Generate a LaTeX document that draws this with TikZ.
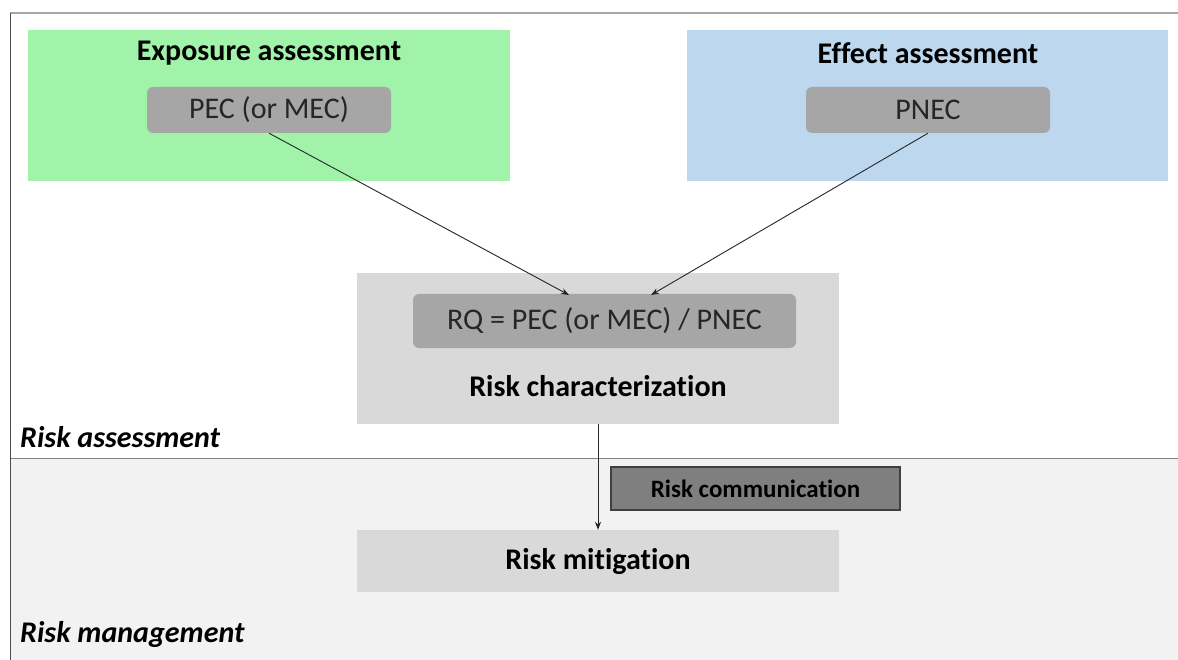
\documentclass[tikz,border=0pt]{standalone}
\usepackage{fontspec}
\setmainfont[Ligatures=NoCommon]{Carlito}
\usetikzlibrary{arrows.meta}
\definecolor{exposuregreen}{HTML}{A1F3A9}
\definecolor{effectblue}{HTML}{BDD7EE}
\definecolor{midgray}{HTML}{A6A6A6}
\definecolor{lightgray}{HTML}{D9D9D9}
\definecolor{palegray}{HTML}{F2F2F2}
\definecolor{commgray}{HTML}{7F7F7F}
\tikzset{
  panel/.style={draw=none, inner sep=0pt},
  valuebox/.style={fill=midgray, rounded corners=6pt, inner sep=0pt,
    font=\fontsize{30}{35}\selectfont, text=black!85},
  heading/.style={font=\fontsize{30}{35}\selectfont\bfseries, inner sep=0pt},
  zonelabel/.style={font=\fontsize{30}{35}\selectfont\bfseries\itshape, inner sep=0pt, anchor=west},
  link/.style={draw=black!85, line width=0.9pt, -{Stealth[length=8pt,width=6pt]}},
}
\begin{document}
\begin{tikzpicture}[x=1pt,y=-1pt]
\useasboundingbox (0,0) rectangle (1178,660);
\fill[white] (0,0) rectangle (1178,660);
% risk management zone
\fill[palegray] (10,458) rectangle (1178,660);
\draw[black!50, line width=1pt] (10,458) -- (1178,458);
% frame
\draw[black!35, line width=2pt] (10,13) -- (1178,13);
\draw[black!70, line width=1pt] (10,13) -- (10,660);

% exposure assessment
\node[panel, fill=exposuregreen, minimum width=482pt, minimum height=151pt] (expo) at (269,105.5) {};
\node[heading] (expotitle) at (269,53) {Exposure assessment};
\node[valuebox, minimum width=244pt, minimum height=46pt] (pec) at (269,110) {PEC (or MEC)};

% effect assessment
\node[panel, fill=effectblue, minimum width=481pt, minimum height=151pt] (effect) at (927.5,105.5) {};
\node[heading] (effecttitle) at (928,53) {Effect assessment};
\node[valuebox, minimum width=244pt, minimum height=46pt] (pnec) at (928,110) {PNEC};

% risk characterization
\node[panel, fill=lightgray, minimum width=482pt, minimum height=151pt] (char) at (598,348.5) {};
\node[valuebox, minimum width=383pt, minimum height=54pt] (rq) at (604.5,321) {RQ = PEC (or MEC) / PNEC};
\node[heading] (chartitle) at (598,386) {Risk characterization};
\coordinate (rqin1) at (569,295);
\coordinate (rqin2) at (651,295);

% risk mitigation and communication
\node[panel, fill=lightgray, minimum width=482pt, minimum height=62pt] (mit) at (598,561) {};
\node[heading] (mittitle) at (598,562) {Risk mitigation};
\node[draw=black!75, line width=1.2pt, fill=commgray, minimum width=289pt, minimum height=43pt, inner sep=0pt,
  font=\fontsize{25}{29}\selectfont\bfseries] (comm) at (755.5,488.5) {Risk communication};

% zone labels
\node[zonelabel] (assess) at (20,437) {Risk assessment};
\node[zonelabel] (manage) at (20,634) {Risk management};

% connectors
\draw[link] (pec.south) -- (rqin1);
\draw[link] (pnec.south) -- (rqin2);
\draw[link] (char.south) -- (mit.north);
\end{tikzpicture}
\end{document}
